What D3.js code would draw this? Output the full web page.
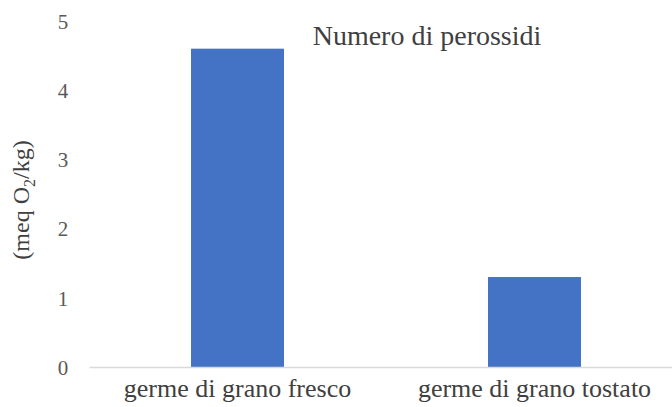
<!DOCTYPE html>
<html>
<head>
<meta charset="utf-8">
<script src="https://cdn.jsdelivr.net/npm/d3@7"></script>
<style>
  html, body { margin: 0; padding: 0; background: #fff; }
  svg { display: block; }
  svg text { font-family: "Liberation Serif", "Times New Roman", Times, "DejaVu Serif", serif !important; }
</style>
</head>
<body>
<svg id="chart" width="672" height="407"></svg>
<script>
// Perossidi nel germe di grano
const categories = ["germe di grano fresco", "germe di grano tostato"];
const values = [4.6, 1.3];
const yTicks = [0, 1, 2, 3, 4, 5];
const title = "Numero di perossidi";

const svg = d3.select("#chart");
const plotLeft = 89, plotRight = 683, plotTop = 21, plotBottom = 367;

const x = d3.scaleBand()
  .domain(categories)
  .range([plotLeft, plotRight])
  .paddingInner(0.687)
  .paddingOuter(0.3435);

const y = d3.scaleLinear().domain([0, 5]).range([plotBottom, plotTop]);

// Y tick labels (no axis line, no gridlines)
const yAxis = d3.axisLeft(y).tickValues(yTicks).tickSize(0).tickPadding(0).tickFormat(d3.format("d"));
const gy = svg.append("g").attr("transform", `translate(${plotLeft - 26},0)`).call(yAxis);
gy.select(".domain").remove();
gy.selectAll("text")
  .attr("fill", "#595959")
  .attr("font-size", 21)
  .attr("text-anchor", "middle")
  .attr("dy", "0.35em");

// Bars
svg.append("g").selectAll("rect")
  .data(values)
  .join("rect")
  .attr("x", (d, i) => x(categories[i]))
  .attr("y", d => y(d))
  .attr("width", x.bandwidth())
  .attr("height", d => y(0) - y(d))
  .attr("fill", "#4472C4");

// X axis baseline and category labels
const xAxis = d3.axisBottom(x).tickSize(0).tickPadding(12);
const gx = svg.append("g").attr("transform", `translate(0,${plotBottom})`).call(xAxis);
gx.select(".domain").attr("stroke", "#d9d9d9").attr("stroke-width", 1.3);
gx.selectAll("text")
  .attr("fill", "#404040")
  .attr("font-size", 26);

// Y-axis title with subscript
const yt = svg.append("text")
  .attr("transform", `translate(29,200) rotate(-90)`)
  .attr("text-anchor", "middle")
  .attr("fill", "#404040")
  .attr("font-size", 24);
yt.append("tspan").text("(meq O");
yt.append("tspan").attr("font-size", 16).attr("dy", 6).text("2");
yt.append("tspan").attr("dy", -6).text("/kg)");

// Chart title
svg.append("text")
  .attr("x", 427)
  .attr("y", 45)
  .attr("text-anchor", "middle")
  .attr("fill", "#404040")
  .attr("font-size", 28)
  .text(title);
</script>
</body>
</html>
